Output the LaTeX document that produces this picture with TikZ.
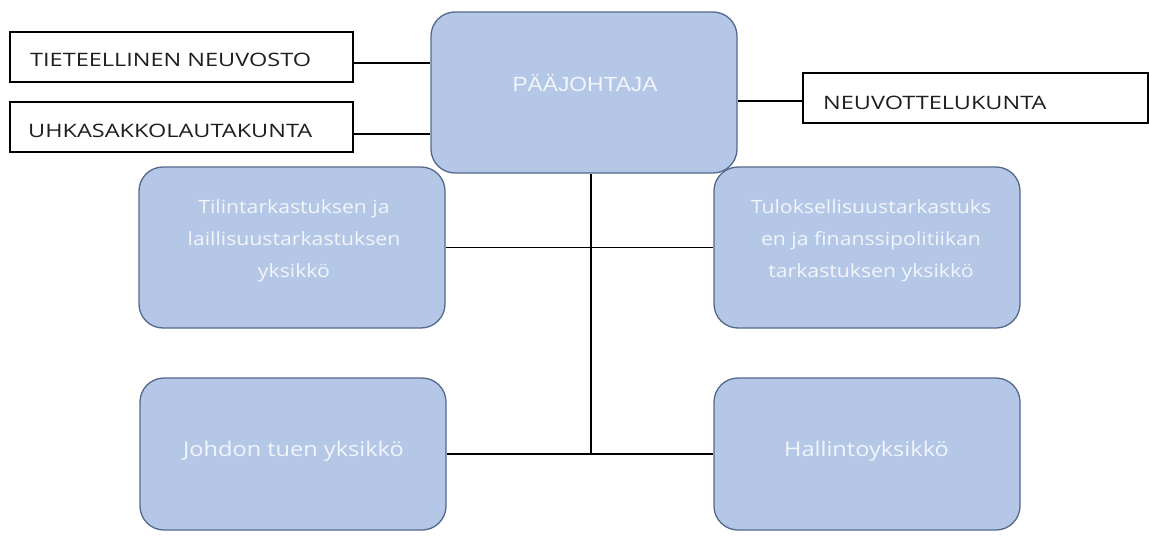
\documentclass[tikz,border=0pt]{standalone}
\usepackage{fontspec}
\setmainfont{Open Sans}
\newfontfamily\unitfont[FakeStretch=1.16]{Open Sans}
\newfontfamily\boardfont[FakeStretch=1.27]{Open Sans}
\newfontfamily\headfont[FakeStretch=1.11]{Liberation Sans}
\definecolor{unitfill}{RGB}{180,199,231}
\definecolor{unitdraw}{RGB}{84,104,140}
\definecolor{unittext}{RGB}{242,245,250}
\definecolor{boardtext}{RGB}{30,30,30}
\tikzset{
  unit/.style={draw=unitdraw, fill=unitfill, line width=1.3pt, rounded corners=24pt,
    minimum width=306pt, minimum height=161pt, inner sep=0pt},
  board/.style={draw=black, line width=1.2pt, minimum width=343pt, minimum height=50pt, inner sep=0pt},
  boardlabel/.style={anchor=base west, text=boardtext, font=\boardfont\fontsize{18.5}{22}\selectfont, inner sep=0pt},
  unitlabel/.style={text=unittext, align=center, inner sep=0pt,
    font=\unitfont\fontsize{20.3}{32}\selectfont},
  smalllabel/.style={unitlabel, font=\unitfont\fontsize{18.3}{32}\selectfont},
  link/.style={draw=black, line width=1.2pt}
}
\begin{document}
\begin{tikzpicture}[x=1pt,y=-1pt]
  \useasboundingbox (0,0) rectangle (1149,538);

  % director and the boards attached to it
  \node[unit] (pj) at (584,92.5) {};
  \node[unitlabel, anchor=base, font=\headfont\fontsize{20.5}{24}\selectfont] (pjt) at (585,91) {PÄÄJOHTAJA};

  \node[board] (tn) at (181.5,57) {};
  \node[boardlabel] (tnt) at (30,66) {TIETEELLINEN NEUVOSTO};
  \node[board] (uh) at (181.5,127) {};
  \node[boardlabel] (uht) at (28,137) {UHKASAKKOLAUTAKUNTA};
  \node[board, minimum width=345pt] (nk) at (975.5,98) {};
  \node[boardlabel] (nkt) at (823,109) {NEUVOTTELUKUNTA};

  % units
  \node[unit] (tl) at (292,247.5) {};
  \node[smalllabel] (tlt) at (294,241) {Tilintarkastuksen ja\\laillisuustarkastuksen\\yksikkö};
  \node[unit] (tu) at (867,247.5) {};
  \node[smalllabel] (tut) at (871,241) {Tuloksellisuustarkastuks\\en ja finanssipolitiikan\\tarkastuksen yksikkö};
  \node[unit, minimum height=152pt] (jo) at (293,454) {};
  \node[unitlabel, anchor=base] (jot) at (293.5,456) {Johdon tuen yksikkö};
  \node[unit, minimum height=152pt] (ha) at (867,454) {};
  \node[unitlabel, anchor=base] (hat) at (866.5,456) {Hallintoyksikkö};

  % connectors
  \coordinate (hub) at (591,455);
  \draw[link] ([yshift=-6pt]tn.east) -- ([yshift=-6pt]tn.east -| pj.west);
  \draw[link] ([yshift=-7pt]uh.east) -- ([yshift=-7pt]uh.east -| pj.west);
  \draw[link] ([yshift=-3pt]nk.west) -- ([yshift=-3pt]nk.west -| pj.east);
  \draw[link] (pj.south -| hub) -- (hub);
  \draw[link] (tl.east) -- (tu.west);
  \draw[link] (jo.east) -- (ha.west);
\end{tikzpicture}
\end{document}
